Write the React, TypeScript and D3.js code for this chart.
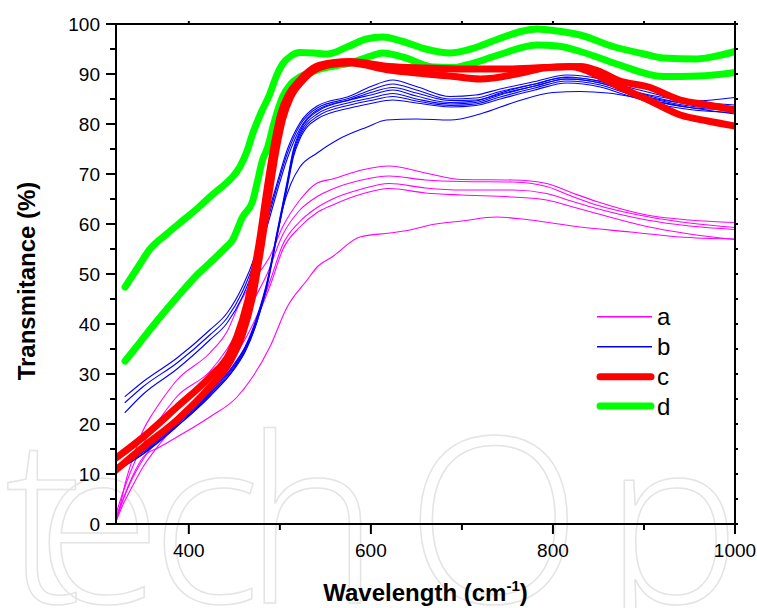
import React from "react";
import * as d3 from "d3";

// ---------- data (wavelength, transmittance %) ----------
const xTicksMajor = [400, 600, 800, 1000];
const xTicksMinor = [500, 700, 900];
const yTicksMajor = [0, 10, 20, 30, 40, 50, 60, 70, 80, 90, 100];
const legendLabels = ["a", "b", "c", "d"];

const a1 = [[320,1],[325,4],[330,8],[340,14],[350,18.8],[360,22],[368,24.2],[387,28.8],[423,34.2],[442,38.5],[456,44.2],[470,48.5],[484,52],[489,53.5],[503,59.4],[522,64.8],[541,68.2],[558,69],[590,70.8],[620,71.6],[660,70.2],[700,68.9],[756,68.8],[793,68.1],[820,66.3],[848,64.5],[903,61.8],[950,60.8],[1000,60.3]];
const a2 = [[320,2],[327,6],[335,10],[350,16],[368,21],[387,25.5],[423,30.5],[442,35],[459,40.2],[472,45],[486,50],[503,57.8],[522,62.8],[541,65.5],[558,67],[590,68.8],[620,69.6],[660,68.8],[700,68.5],[756,68.4],[793,67.5],[820,65.6],[848,63.8],[903,61.5],[950,60.2],[1000,59.3]];
const a3 = [[320,1.5],[328,5],[335,8],[350,13],[368,17.5],[387,21.5],[423,27.5],[450,33.5],[465,38],[478,43],[490,49],[503,55.8],[522,60.5],[541,63.3],[558,65],[590,67],[620,68.1],[660,67.2],[700,66.8],[756,66.8],[793,66.1],[820,64.6],[848,63.1],[903,60.8],[950,59.6],[1000,58.9]];
const a4 = [[320,0.5],[328,4],[335,6.5],[350,11.5],[368,16],[387,20],[423,26.5],[450,32],[465,36.5],[478,42.5],[490,48],[503,54.8],[522,59.4],[541,62.3],[558,63.8],[590,66],[620,67.1],[660,66.2],[700,65.8],[756,65.4],[793,64.8],[820,63.5],[848,62.1],[903,59.5],[950,58],[1000,56.9]];
const a5 = [[320,0.5],[328,5],[338,9.5],[350,13.4],[368,15.4],[387,17.4],[423,21.4],[453,25.4],[470,29.4],[489,35.4],[508,43.4],[530,48.8],[541,51.4],[558,53.5],[588,57.4],[621,58.2],[643,58.8],[665,59.8],[700,60.6],[738,61.4],[775,60.8],[830,59.4],[885,58.4],[939,57.4],[1000,57]];

const b1 = [[330,25.5],[350,28.5],[387,33.2],[423,38.8],[442,42.2],[459,47.5],[475,54.8],[486,61.4],[497,68.2],[508,74.8],[522,80.2],[541,83.6],[577,85.6],[600,87.5],[624,88.8],[650,87.5],[687,85.5],[715,85.8],[742,87],[780,88.5],[815,89.8],[852,89],[880,87.5],[906,86.3],[950,84.6],[975,84.8],[1000,85.3]];
const b2 = [[330,24.3],[350,27.5],[387,32.2],[423,37.8],[442,41.2],[459,46.5],[475,54],[486,60.5],[497,67.5],[508,74],[522,79.7],[541,83.2],[577,85.2],[600,86.8],[624,88],[650,86.8],[687,85],[715,85.2],[742,86.5],[780,88],[815,89.4],[852,88.5],[880,87],[906,85.8],[950,84.6],[1000,83.8]];
const b3 = [[330,22.3],[350,26],[387,31],[423,36.8],[442,40.2],[459,45.5],[475,53],[486,59.5],[497,66.5],[508,73],[522,79],[541,82.8],[577,84.9],[600,86.3],[624,87.3],[650,86.2],[687,84.7],[715,84.8],[742,86],[780,87.6],[815,89],[852,88.2],[880,86.6],[906,85.3],[950,84],[1000,83.2]];
const b4 = [[322,11.8],[350,15],[387,20.5],[423,26.5],[450,32],[462,35.5],[475,41.5],[486,48.5],[497,58.5],[508,68.5],[515,75],[522,78.5],[541,82.5],[577,84.8],[600,85.8],[624,86.8],[650,85.6],[687,84.3],[715,84.6],[742,86.2],[780,88],[815,89.3],[852,88.6],[880,87],[906,85.6],[950,84],[1000,83.5]];
const b5 = [[322,11.5],[350,14.7],[387,20.2],[423,26.2],[450,31.7],[462,35.2],[475,41.2],[486,48.2],[497,58.2],[508,68],[515,74.5],[522,78],[541,82],[577,84.3],[600,85.2],[624,86.1],[650,85],[687,84],[715,84.3],[742,85.8],[780,87.6],[815,89],[852,88.2],[880,86.6],[906,85.2],[950,83.6],[1000,83]];
const b6 = [[322,11.2],[350,14.4],[387,19.9],[423,25.9],[450,31.4],[462,34.9],[475,40.9],[486,47.9],[497,57.9],[508,67.6],[515,74],[522,77.5],[541,81.5],[577,83.8],[600,84.7],[624,85.5],[650,84.6],[687,83.7],[715,84],[742,85.4],[780,87.2],[815,88.6],[852,87.8],[880,86.2],[906,84.8],[950,83.3],[1000,82.8]];
const b7 = [[322,10.9],[350,14.1],[387,19.6],[423,25.6],[450,31.1],[462,34.6],[475,40.6],[486,47.6],[497,57.6],[508,67.2],[515,73.5],[522,77],[541,81],[577,83.2],[600,84.1],[624,84.8],[650,84.2],[687,83.4],[715,83.7],[742,85],[780,86.8],[815,88.2],[852,87.4],[880,85.8],[906,84.4],[950,82.9],[1000,82.3]];
const b8 = [[322,10.8],[350,14],[387,19.5],[423,25.5],[450,31],[462,34.5],[475,40.5],[486,48],[497,57.8],[503,63],[512,68],[522,71.4],[541,74.2],[563,76.8],[596,79.4],[617,80.8],[650,81],[687,80.8],[720,82],[760,84.5],[800,86.3],[830,86.5],[860,86.2],[900,85],[950,83.3],[1000,82]];

const c1 = [[320,13.2],[350,17.4],[387,23.4],[423,29.4],[445,34.2],[459,40.8],[470,48.8],[478,57],[486,67],[494,76],[501,82],[510,86],[522,88.8],[540,91.5],[560,92.3],[577,92.5],[620,91.5],[660,91.2],[700,91],[750,91],[790,91.3],[830,91.5],[850,90.6],[872,88.7],[905,87.4],[940,84.8],[970,83.8],[1000,82.8]];
const c2 = [[320,10.8],[350,15.4],[387,20.8],[423,27.4],[445,32.4],[459,38],[470,45.5],[479,55],[488,66],[496,75],[503,81],[512,85.5],[524,88.5],[540,91],[560,92],[577,92.2],[620,90.8],[650,90.2],[687,89.6],[720,89],[770,90.4],[790,91.2],[820,91.5],[850,89.6],[872,87.5],[905,84.8],[940,81.8],[970,80.6],[1000,79.6]];

const d1 = [[330,47.4],[345,51.6],[357,54.9],[375,57.9],[394,60.8],[410,63.2],[423,65.4],[440,68],[448,69.4],[456,71.4],[464,74.6],[470,78],[480,82.5],[489,86],[496,89.5],[503,92],[512,93.6],[522,94.3],[537,94.2],[552,94],[575,95.5],[595,97],[613,97.4],[635,96.5],[660,95],[687,94.2],[710,95],[740,97],[765,98.5],[782,99],[805,98.6],[830,97.8],[866,95.5],[900,94],[921,93.2],[958,93],[980,93.6],[1000,94.5]];
const d2 = [[330,32.6],[345,36],[357,38.8],[375,42.8],[394,46.8],[410,50],[423,52.2],[440,55.2],[448,56.8],[459,61.4],[470,64.5],[475,68.2],[481,72.8],[486,75],[494,80.5],[503,85.4],[512,88],[522,89.4],[545,91],[577,92.2],[600,93.6],[613,94.2],[635,93.4],[668,91.4],[690,91.3],[705,91.8],[740,93.8],[782,95.8],[805,95.6],[830,94.5],[870,92],[921,89.5],[960,89.6],[1000,90.3]];

const seriesA = [a1, a2, a3, a4, a5];
const seriesB = [b1, b2, b3, b4, b5, b6, b7, b8];
const seriesC = [c1, c2];
const seriesD = [d1, d2];

const watermarkText = "techOp";

// ---------- layout ----------
const W = 757, H = 608;
const L = 116, R = 735, T = 24, B = 524;
const FONT = "'Liberation Sans', Arial, Helvetica, sans-serif";

const COLORS = { a: "#ff00ff", b: "#0000ff", c: "#ff0000", d: "#00ff00" };

export default function App() {
  const x = d3.scaleLinear().domain([320, 1000]).range([L, R]);
  const y = d3.scaleLinear().domain([0, 100]).range([B, T]);
  const line = d3
    .line<number[]>()
    .x((p) => x(p[0]))
    .y((p) => y(p[1]))
    .curve(d3.curveMonotoneX);

  const yMinor = d3.range(5, 100, 10);
  const allXTicks = [...xTicksMajor, ...xTicksMinor];
  const rightTicks = d3.range(0, 101, 5);

  const legendYs = [316.7, 346.7, 376.7, 406];
  const legendStyles = [
    { color: COLORS.a, width: 1.5 },
    { color: COLORS.b, width: 1.5 },
    { color: COLORS.c, width: 7 },
    { color: COLORS.d, width: 7 },
  ];

  return (
    <div style={{ position: "absolute", left: 0, top: 0 }}>
      <svg width={W} height={H} viewBox={`0 0 ${W} ${H}`} style={{ display: "block", background: "#fff" }}>
        <defs>
          <clipPath id="plotclip">
            <rect x={L} y={T} width={R - L} height={B - T} />
          </clipPath>
        </defs>
        <rect x={0} y={0} width={W} height={H} fill="#fff" />

        {/* watermark (outlined) */}
        <text
          x="5 36 151 244 406 604"
          y={603}
          fill="none"
          stroke="#e4e4e4"
          strokeWidth={1.5}
          fontFamily="'Open Sans', sans-serif"
          fontWeight={300}
          fontSize={230}
        >
          {watermarkText}
        </text>

        {/* curves */}
        <g clipPath="url(#plotclip)" fill="none" strokeLinejoin="round" strokeLinecap="round">
          {seriesD.map((s, i) => (
            <path key={"d" + i} d={line(s) || ""} stroke={COLORS.d} strokeWidth={7} />
          ))}
          {seriesA.map((s, i) => (
            <path key={"a" + i} d={line(s) || ""} stroke={COLORS.a} strokeWidth={1.1} />
          ))}
          {seriesB.map((s, i) => (
            <path key={"b" + i} d={line(s) || ""} stroke={COLORS.b} strokeWidth={1.1} />
          ))}
          {seriesC.map((s, i) => (
            <path key={"c" + i} d={line(s) || ""} stroke={COLORS.c} strokeWidth={7} />
          ))}
        </g>

        {/* frame */}
        <g stroke="#000" strokeWidth={2} fill="none">
          <line x1={L} y1={B} x2={R + 1} y2={B} />
          <line x1={L} y1={T} x2={R + 1} y2={T} />
          <line x1={L} y1={T - 1} x2={L} y2={B + 1} />
          <line x1={R} y1={T - 1} x2={R} y2={B + 1} />
        </g>

        {/* ticks */}
        <g stroke="#000" strokeWidth={2}>
          {yTicksMajor.map((v) => (
            <line key={"ym" + v} x1={L - 10} x2={L} y1={y(v)} y2={y(v)} />
          ))}
          {yMinor.map((v) => (
            <line key={"yn" + v} x1={L - 6} x2={L} y1={y(v)} y2={y(v)} />
          ))}
          {xTicksMajor.map((v) => (
            <line key={"xm" + v} x1={x(v)} x2={x(v)} y1={B} y2={B + 10} />
          ))}
          {xTicksMinor.map((v) => (
            <line key={"xn" + v} x1={x(v)} x2={x(v)} y1={B} y2={B + 6} />
          ))}
          {allXTicks.map((v) => (
            <line key={"xt" + v} x1={x(v)} x2={x(v)} y1={T} y2={T - 3} />
          ))}
          {rightTicks.map((v) => (
            <line key={"yr" + v} x1={R} x2={R + 3} y1={y(v)} y2={y(v)} />
          ))}
        </g>

        {/* tick labels */}
        <g fontFamily={FONT} fontSize={19} fill="#000">
          {yTicksMajor.map((v) => (
            <text key={"yl" + v} x={100} y={y(v) + 7} textAnchor="end">
              {v}
            </text>
          ))}
          {xTicksMajor.map((v) => (
            <text key={"xl" + v} x={x(v)} y={557} textAnchor="middle">
              {v}
            </text>
          ))}
        </g>

        {/* axis titles */}
        <text x={(L + R) / 2} y={601} textAnchor="middle" fontFamily={FONT} fontWeight="bold" fontSize={24}>
          Wavelength (cm
          <tspan fontSize={15} dy={-10}>-1</tspan>
          <tspan dy={10}>)</tspan>
        </text>
        <text
          transform={`translate(35, ${(T + B) / 2 + 7}) rotate(-90)`}
          textAnchor="middle"
          fontFamily={FONT}
          fontWeight="bold"
          fontSize={24}
        >
          Transmitance (%)
        </text>

        {/* legend */}
        <g>
          {legendLabels.map((lab, i) => (
            <g key={lab}>
              <line
                x1={legendStyles[i].width > 3 ? 600 : 597}
                x2={legendStyles[i].width > 3 ? 651 : 652}
                y1={legendYs[i]}
                y2={legendYs[i]}
                stroke={legendStyles[i].color}
                strokeWidth={legendStyles[i].width}
                strokeLinecap={legendStyles[i].width > 3 ? "round" : "butt"}
              />
              <text x={657} y={legendYs[i] + 8.5} fontFamily={FONT} fontSize={24}>
                {lab}
              </text>
            </g>
          ))}
        </g>
      </svg>
    </div>
  );
}
